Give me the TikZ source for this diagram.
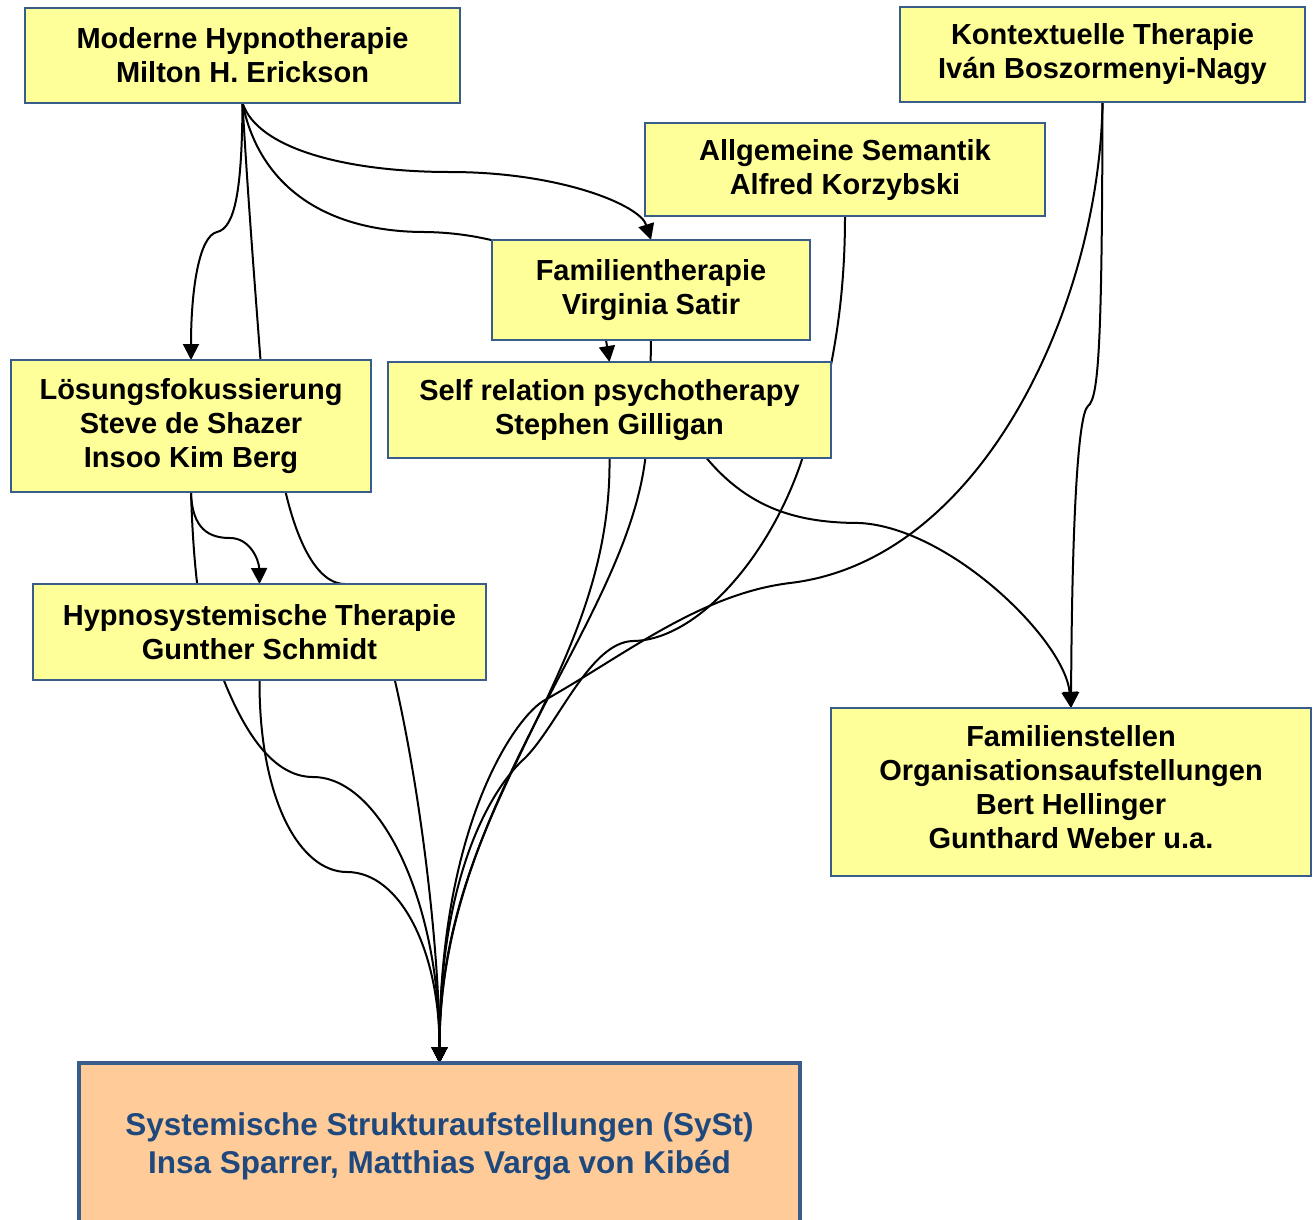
\documentclass[tikz,border=0pt]{standalone}
\usepackage{fontspec}
\setmainfont{Liberation Sans}
\usetikzlibrary{arrows.meta,calc}
\definecolor{boxfill}{HTML}{FFFF99}
\definecolor{boxline}{HTML}{385D8A}
\definecolor{systfill}{HTML}{FFCC99}
\definecolor{systtext}{HTML}{1F497D}
\pgfdeclarelayer{back}
\pgfdeclarelayer{bg}
\pgfsetlayers{back,bg,main}
\begin{document}
\begin{tikzpicture}[x=1pt,y=-1pt,
  infobox/.style={draw=boxline,fill=boxfill,line width=2pt,rectangle,inner sep=0pt,outer sep=0pt,
    align=center,font=\fontsize{29}{34}\selectfont\bfseries},
  mainbox/.style={draw=boxline,fill=systfill,line width=3.5pt,rectangle,inner sep=0pt,outer sep=0pt,
    align=center,text=systtext,font=\fontsize{31.5}{38}\selectfont\bfseries},
  conn/.style={line width=2pt,black},
  arr/.style={conn,-{Triangle[width=16pt,length=16pt]}}]
\useasboundingbox (0,0) rectangle (1316,1219);
\begin{pgfonlayer}{back}
\fill[white] (0,0) rectangle (1316,1219);
\end{pgfonlayer}

\node[infobox,minimum width=435pt,minimum height=95pt] (E) at (242.5,55.5) {Moderne Hypnotherapie\\Milton H. Erickson};
\node[infobox,minimum width=405pt,minimum height=95pt] (K) at (1102.5,54.5) {Kontextuelle Therapie\\Iván Boszormenyi-Nagy};
\node[infobox,minimum width=400pt,minimum height=93pt] (S) at (845,169.5) {Allgemeine Semantik\\Alfred Korzybski};
\node[infobox,minimum width=318pt,minimum height=100pt] (V) at (651,290) {Familientherapie\\Virginia Satir};
\node[infobox,minimum width=360pt,minimum height=132pt] (L) at (191,426) {Lösungsfokussierung\\Steve de Shazer\\Insoo Kim Berg};
\node[infobox,minimum width=443pt,minimum height=96pt] (G) at (609.5,410) {Self relation psychotherapy\\Stephen Gilligan};
\node[infobox,minimum width=453pt,minimum height=96pt] (H) at (259.5,632) {Hypnosystemische Therapie\\Gunther Schmidt};
\node[infobox,minimum width=480pt,minimum height=168pt] (B) at (1071,792) {Familienstellen\\Organisationsaufstellungen\\Bert Hellinger\\Gunthard Weber u.a.\\[-24pt]};
\node[mainbox,minimum width=721pt,minimum height=166pt] (Y) at (439.5,1146) {Systemische Strukturaufstellungen (SySt)\\Insa Sparrer, Matthias Varga von Kibéd};

\begin{pgfonlayer}{bg}
% Erickson -> Loesungsfokussierung
\draw[arr] (E.south) .. controls (242,190) and (235,228) .. (217,232)
  .. controls (199,236) and (191,290) .. (L.north);
% Erickson -> Satir
\draw[arr] (E.south) .. controls (258,150) and (350,172) .. (450,172)
  .. controls (560,172) and (640,205) .. (V.north);
% Erickson -> Gilligan
\draw[arr] (E.south) .. controls (260,190) and (330,232) .. (425,232)
  .. controls (510,233) and (603,270) .. (606,340) -- (G.north);
% Erickson -> SySt
\draw[arr] (E.south) .. controls (248,200) and (256,300) .. (262,380) -- (283,480)
  .. controls (292,525) and (312,584) .. (345,584)
  .. controls (375,584) and (385,640) .. (390,660)
  .. controls (420,780) and (439.5,950) .. (Y.north);
% Loesung -> Schmidt
\draw[arr] (L.south) .. controls (192,530) and (210,538) .. (230,538)
  .. controls (250,538) and (259,560) .. (H.north);
% Loesung -> SySt
\draw[arr] (L.south) .. controls (193,560) and (200,640) .. (218,665)
  .. controls (240,725) and (270,777) .. (313,777)
  .. controls (380,777) and (439.5,900) .. (Y.north);
% Schmidt -> SySt
\draw[arr] (H.south) .. controls (259,800) and (300,872) .. (347,872)
  .. controls (400,872) and (439.5,950) .. (Y.north);
% Satir -> SySt
\draw[arr] (V.south) -- (650,400) -- (646,452)
  .. controls (630,620) and (439.5,800) .. (Y.north);
% Gilligan -> SySt
\draw[arr] (G.south) .. controls (612,680) and (439.5,800) .. (Y.north);
% Semantik -> SySt
\draw[arr] (S.south) .. controls (845,290) and (836,340) .. (829,375) -- (805,450)
  .. controls (775,550) and (700,640) .. (633,641)
  .. controls (590,642) and (558,725) .. (525,758)
  .. controls (500,780) and (439.5,860) .. (Y.north);
% Kontextuelle -> SySt
\draw[arr] (K.south) .. controls (1100,300) and (985,560) .. (790,583)
  .. controls (700,594) and (625,655) .. (545,700)
  .. controls (518,714) and (439.5,820) .. (Y.north);
% Kontextuelle -> Hellinger
\draw[arr] (K.south) .. controls (1102,340) and (1099,398) .. (1088,406)
  .. controls (1078,414) and (1072,520) .. (B.north);
% Gilligan -> Hellinger
\draw[arr] ([xshift=97pt]G.south) .. controls (750,510) and (800,523) .. (860,523)
  .. controls (950,528) and (1065,640) .. (B.north);
\end{pgfonlayer}
\end{tikzpicture}
\end{document}
